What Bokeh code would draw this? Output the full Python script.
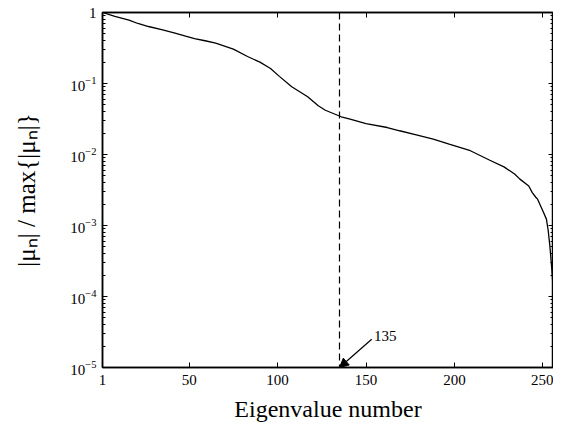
import math
from bokeh.plotting import figure
from bokeh.models import (Range1d, LinearAxis, LogAxis, FixedTicker, LogTicker, Span,
                          Arrow, NormalHead, Label, CustomJSTickFormatter, LogTickFormatter)
from bokeh.embed import file_html
from bokeh.resources import INLINE

# ---- data ----
eig_idx = [1, 8, 16, 21, 27, 35, 42, 48, 53, 59, 65, 75, 83, 90, 96, 101, 108, 117, 123,
           127, 136, 141, 150, 162, 169, 179, 188, 197, 209, 220, 228, 234, 237, 242, 244,
           246, 247, 250, 252, 253, 254, 255, 256]
ratio = [1.0, 0.88, 0.78, 0.70, 0.635, 0.57, 0.513, 0.465, 0.43, 0.40, 0.37, 0.305, 0.24,
         0.2, 0.163, 0.126, 0.09, 0.065, 0.0485, 0.042, 0.034, 0.0315, 0.0273, 0.024,
         0.0216, 0.0188, 0.0165, 0.014, 0.0113, 0.0083, 0.0067, 0.0053, 0.0045, 0.0036,
         0.0029, 0.0025, 0.00235, 0.0016, 0.00123, 0.00085, 0.0005, 0.00025, 0.00011]
x_ticks = [1, 50, 100, 150, 200, 250]
cut_index = 135
cut_label = "135"
x_label = "Eigenvalue number"
y_label = "|\u03bc\u2099| / max{|\u03bc\u2099|}"
x_min, x_max = 1, 256
y_min, y_max = 1e-5, 1.0

FONT = "Liberation Serif"

p = figure(width=553, height=425, x_range=Range1d(x_min, x_max), y_range=Range1d(y_min, y_max),
           y_axis_type="log", output_backend="svg", toolbar_location=None,
           min_border_left=102, min_border_right=0, min_border_top=12, min_border_bottom=58)
p.background_fill_color = "white"
p.border_fill_color = "white"
p.outline_line_color = "black"
p.outline_line_width = 1.5
p.xgrid.visible = False
p.ygrid.visible = False

blank = CustomJSTickFormatter(code="return ''")

def style_axis(ax):
    ax.axis_line_color = "black"
    ax.axis_line_width = 1.5
    ax.major_tick_in = 5
    ax.major_tick_out = 0
    ax.minor_tick_in = 3
    ax.minor_tick_out = 0
    ax.major_tick_line_color = "black"
    ax.minor_tick_line_color = "black"

# bottom axis
xa = p.xaxis[0]
xa.ticker = FixedTicker(ticks=x_ticks)
style_axis(xa)
xa.major_label_text_font = FONT
xa.major_label_text_font_size = "15px"
xa.major_label_text_color = "black"
xa.major_label_standoff = 7
xa.axis_label = x_label
xa.axis_label_text_font = FONT
xa.axis_label_text_font_size = "24px"
xa.axis_label_text_font_style = "normal"
xa.axis_label_text_color = "black"
xa.axis_label_standoff = 8

# left axis
ya = p.yaxis[0]
ya.ticker = LogTicker(num_minor_ticks=10)
style_axis(ya)
ya.formatter = LogTickFormatter()
ya.major_label_overrides = {1: "1"}
ya.major_label_text_font = FONT
ya.major_label_text_font_size = "15px"
ya.major_label_text_color = "black"
ya.major_label_standoff = 6
ya.axis_label = y_label
ya.axis_label_text_font = FONT
ya.axis_label_text_font_size = "25px"
ya.axis_label_text_font_style = "normal"
ya.axis_label_text_color = "black"
ya.axis_label_standoff = 27

# mirrored axes
top = LinearAxis(ticker=FixedTicker(ticks=x_ticks), formatter=blank, major_label_standoff=0)
style_axis(top)
p.add_layout(top, "above")
right = LogAxis(ticker=LogTicker(num_minor_ticks=10), formatter=blank, major_label_standoff=0)
style_axis(right)
p.add_layout(right, "right")

# curve
p.line(eig_idx, ratio, line_color="black", line_width=1.3)

# dashed cut line and annotation
p.add_layout(Span(location=cut_index, dimension="height", line_color="black",
                  line_width=1.2, line_dash="7 4"))
p.add_layout(Arrow(end=NormalHead(size=9, fill_color="black", line_color="black"),
                   x_start=153.2, y_start=2.5e-5, x_end=cut_index, y_end=y_min,
                   line_color="black", line_width=1.2))
p.add_layout(Label(x=154.5, y=2.79e-5, text=cut_label, text_font=FONT,
                   text_font_size="15px", text_align="left", text_baseline="alphabetic",
                   text_color="black"))

open("out.html", "w").write(file_html(p, INLINE))
